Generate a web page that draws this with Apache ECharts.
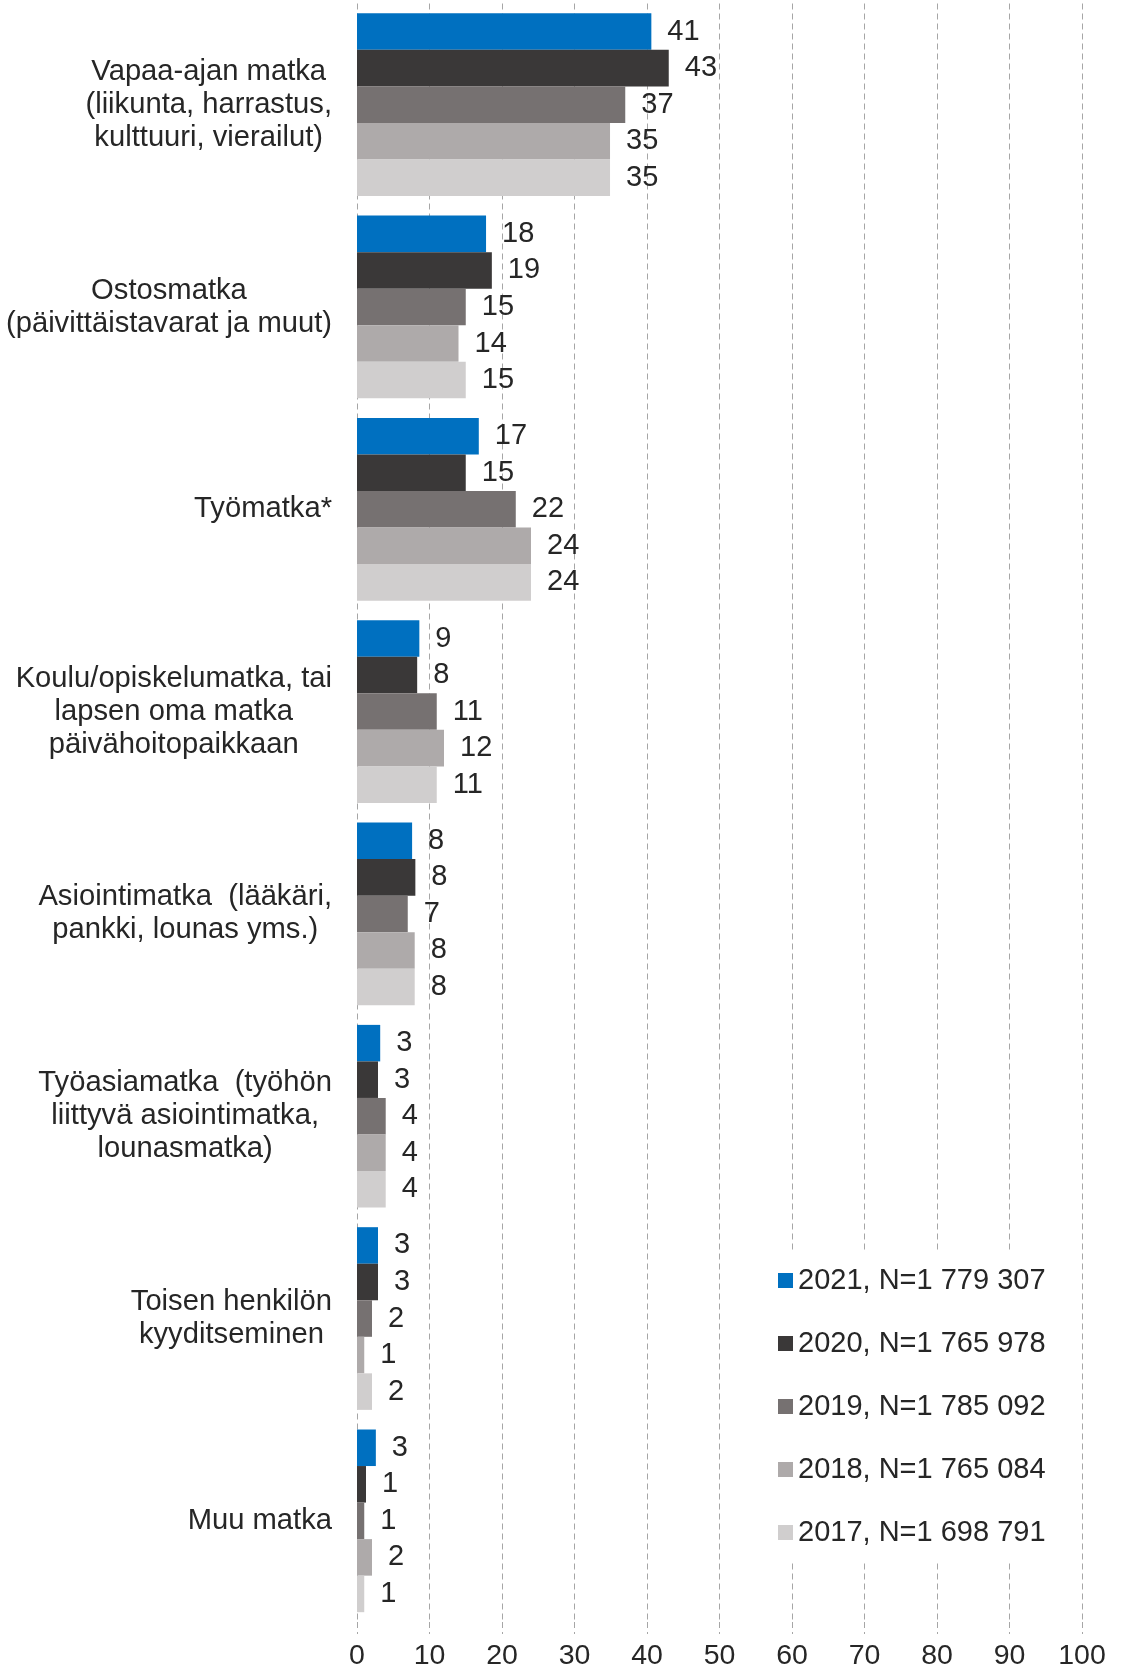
<!DOCTYPE html>
<html>
<head>
<meta charset="utf-8">
<script src="https://cdn.jsdelivr.net/npm/echarts@6/dist/echarts.min.js"></script>
<style>
  html, body { margin: 0; padding: 0; background: #fff; }
  #main { width: 1121px; height: 1671px; }
</style>
</head>
<body>
<div id="main"></div>
<script>
var categories = [
  'Vapaa-ajan matka\n(liikunta, harrastus,\nkulttuuri, vierailut)',
  'Ostosmatka\n(päivittäistavarat ja muut)',
  'Työmatka*',
  'Koulu/opiskelumatka, tai\nlapsen oma matka\npäivähoitopaikkaan',
  'Asiointimatka  (lääkäri,\npankki, lounas yms.)',
  'Työasiamatka  (työhön\nliittyvä asiointimatka,\nlounasmatka)',
  'Toisen henkilön\nkyyditseminen',
  'Muu matka'
];

var seriesNames = ['2021, N=1 779 307', '2020, N=1 765 978', '2019, N=1 785 092', '2018, N=1 765 084', '2017, N=1 698 791'];
var colors = ['#0070c0', '#3a3838', '#767171', '#aeaaaa', '#d0cece'];

var y2021 = [40.6, 17.8, 16.8, 8.6, 7.6, 3.2, 2.9, 2.6];
var y2020 = [43.0, 18.6, 15.0, 8.3, 8.05, 2.9, 2.9, 1.24];
var y2019 = [37.0, 15.0, 21.9, 11.0, 7.0, 3.96, 2.07, 1.0];
var y2018 = [34.9, 14.0, 24.0, 12.0, 7.96, 3.96, 1.0, 2.07];
var y2017 = [34.9, 15.0, 24.0, 11.0, 7.96, 3.96, 2.07, 1.0];

var xTicks = [0, 100, 10]; // min, max, interval

var FONT = '"Liberation Sans", Arial, sans-serif';
var TXT = '#262626';

var myChart = echarts.init(document.getElementById('main'));

var allData = [y2021, y2020, y2019, y2018, y2017];

var option = {
  backgroundColor: '#fff',
  animation: false,
  textStyle: { fontFamily: FONT, color: TXT },
  grid: { left: 357, right: 39, top: 3.5, bottom: 49, outerBoundsMode: 'none', containLabel: false },
  legend: {
    orient: 'vertical',
    left: 765,
    top: 1250,
    padding: [14, 30, 14, 13],
    backgroundColor: '#fff',
    itemWidth: 15,
    itemHeight: 15,
    itemGap: 30,
    icon: 'rect',
    data: seriesNames,
    textStyle: { fontFamily: FONT, fontSize: 29, color: TXT, lineHeight: 33 }
  },
  xAxis: {
    type: 'value',
    min: xTicks[0],
    max: xTicks[1],
    interval: xTicks[2],
    axisLine: { show: false },
    axisTick: {
      show: true,
      length: 12,
      lineStyle: { color: '#a6a6a6', type: [6, 4] }
    },
    axisLabel: { fontFamily: FONT, fontSize: 28.5, color: TXT, margin: 20 },
    splitLine: {
      show: true,
      lineStyle: { color: '#a6a6a6', width: 1, type: [6, 4] }
    }
  },
  yAxis: {
    type: 'category',
    inverse: true,
    data: categories,
    axisLine: { show: false },
    axisTick: { show: false },
    axisLabel: {
      margin: 25,
      formatter: function (v) {
        return v.split('\n').map(function (l) { return '{c|' + l + '}'; }).join('\n');
      },
      rich: {
        c: { align: 'center', fontFamily: FONT, fontSize: 29.2, lineHeight: 33, color: TXT }
      }
    }
  },
  series: allData.map(function (d, i) {
    return {
      name: seriesNames[i],
      type: 'bar',
      data: d,
      barGap: '0%',
      barCategoryGap: '9.7%',
      itemStyle: { color: colors[i] },
      label: {
        show: true,
        position: 'right',
        distance: 16,
        fontFamily: FONT,
        fontSize: 29,
        color: TXT,
        formatter: function (p) { return Math.round(p.value); }
      }
    };
  })
};

myChart.setOption(option);
</script>
</body>
</html>
